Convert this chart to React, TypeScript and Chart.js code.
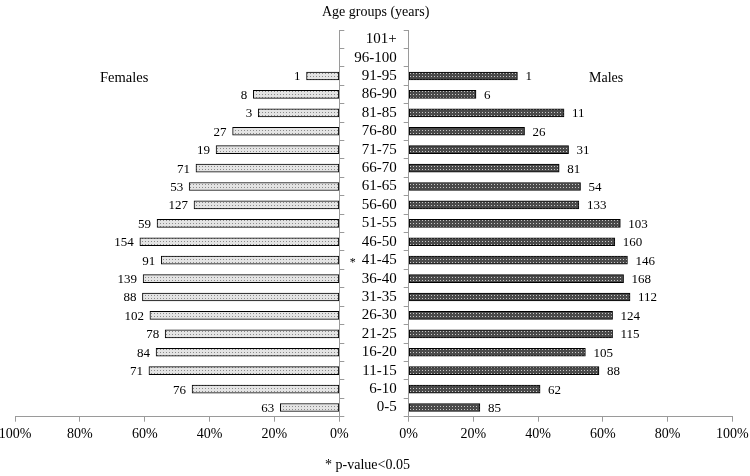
import React, { useEffect, useRef } from "react";
import { Chart, registerables } from "chart.js";

Chart.register(...registerables);

const categories = ["101+", "96-100", "91-95", "86-90", "81-85", "76-80", "71-75", "66-70", "61-65", "56-60", "51-55", "46-50", "41-45", "36-40", "31-35", "26-30", "21-25", "16-20", "11-15", "6-10", "0-5"];
const femalePct = [null, null, 10.1, 26.5, 25, 32.9, 38, 44.2, 46.3, 44.8, 56.2, 61.5, 54.9, 60.5, 60.7, 58.4, 53.7, 56.5, 58.7, 45.4, 18.2];
const malePct = [null, null, 33.6, 20.8, 48, 35.8, 49.4, 46.5, 53.1, 52.6, 65.4, 63.7, 67.6, 66.4, 68.4, 63, 63, 54.6, 58.8, 40.6, 22];
const femaleN = [null, null, 1, 8, 3, 27, 19, 71, 53, 127, 59, 154, 91, 139, 88, 102, 78, 84, 71, 76, 63];
const maleN = [null, null, 1, 6, 11, 26, 31, 81, 54, 133, 103, 160, 146, 168, 112, 124, 115, 105, 88, 62, 85];
const xTicks = [0, 20, 40, 60, 80, 100];
const starredGroup = "41-45";

const FONT = "'Liberation Serif', 'Times New Roman', serif";
const AXIS = "#9a9a9a";

function makePattern(bg: string, dot: string) {
  const c = document.createElement("canvas");
  c.width = 3;
  c.height = 3;
  const g = c.getContext("2d")!;
  g.fillStyle = bg;
  g.fillRect(0, 0, 3, 3);
  g.fillStyle = dot;
  g.fillRect(1, 1, 1, 1);
  return g.createPattern(c, "repeat")!;
}

function labelPlugin(counts: (number | null)[], side: "left" | "right", star: boolean) {
  return {
    id: "vals" + side,
    afterDatasetsDraw(chart: any) {
      const ctx = chart.ctx;
      const meta = chart.getDatasetMeta(0);
      ctx.save();
      ctx.fillStyle = "#000";
      ctx.font = `13px ${FONT}`;
      ctx.textBaseline = "middle";
      meta.data.forEach((el: any, i: number) => {
        const n = counts[i];
        if (n == null) return;
        if (side === "left") {
          ctx.textAlign = "right";
          ctx.fillText(String(n), el.x - 6, el.y + 1);
        } else {
          ctx.textAlign = "left";
          ctx.fillText(String(n), el.x + 8, el.y + 1);
        }
      });
      if (star) {
        const ys = chart.scales.y;
        const idx = categories.indexOf(starredGroup);
        const y = ys.getPixelForValue(idx);
        ctx.font = `15px ${FONT}`;
        const w = ctx.measureText(starredGroup).width;
        ctx.font = `12px ${FONT}`;
        ctx.textAlign = "right";
        ctx.fillText("*", ys.right - 12 - w - 6, y + 3);
      }
      ctx.restore();
    },
  };
}

function buildChart(canvas: HTMLCanvasElement, side: "left" | "right") {
  const isLeft = side === "left";
  const pattern = isLeft ? makePattern("#e4e4e4", "#8a8a8a") : makePattern("#4a4a4a", "#c8c8c8");
  return new Chart(canvas, {
    type: "bar",
    data: {
      labels: categories,
      datasets: [
        {
          data: (isLeft ? femalePct : malePct) as any,
          backgroundColor: pattern as any,
          borderColor: "#000",
          borderWidth: 1,
          borderSkipped: false,
          barThickness: 8,
        },
      ],
    },
    options: {
      indexAxis: "y",
      animation: false,
      responsive: false,
      devicePixelRatio: 1,
      layout: {
        padding: isLeft ? { left: 15, right: 0, top: 30, bottom: 0 } : { left: 0, right: 37.7, top: 30, bottom: 0 },
      },
      plugins: { legend: { display: false }, tooltip: { enabled: false } },
      scales: {
        x: {
          type: "linear",
          min: 0,
          max: 100,
          reverse: isLeft,
          position: "bottom",
          afterBuildTicks: (s: any) => {
            s.ticks = xTicks.map((v) => ({ value: v }));
          },
          afterFit: (s: any) => {
            s.height = 59.3;
          },
          ticks: {
            callback: (v: any) => v + "%",
            color: "#000",
            font: { family: FONT, size: 14 },
            padding: 4,
            maxRotation: 0,
          },
          grid: { drawOnChartArea: false, drawTicks: true, tickLength: 5, color: AXIS },
          border: { display: true, color: AXIS },
        },
        y: {
          type: "category",
          position: isLeft ? "right" : "left",
          afterFit: (s: any) => {
            s.width = isLeft ? 20.7 : 68.7;
          },
          ticks: {
            display: !isLeft,
            color: "#000",
            font: { family: FONT, size: 15 },
            padding: 7,
            autoSkip: false,
          },
          grid: { drawOnChartArea: false, drawTicks: true, tickLength: 5, color: AXIS, offset: true },
          border: { display: true, color: AXIS },
        },
      },
    },
    plugins: [labelPlugin(isLeft ? femaleN : maleN, side, !isLeft)],
  } as any);
}

const textStyle = (left: number, top: number, size: number): React.CSSProperties => ({
  position: "absolute",
  left,
  top,
  fontFamily: FONT,
  fontSize: size,
  lineHeight: `${size}px`,
  color: "#000",
  whiteSpace: "nowrap",
});

export default function App() {
  const leftRef = useRef<HTMLCanvasElement>(null);
  const rightRef = useRef<HTMLCanvasElement>(null);

  useEffect(() => {
    document.body.style.margin = "0";
    const a = buildChart(leftRef.current!, "left");
    const b = buildChart(rightRef.current!, "right");
    return () => {
      a.destroy();
      b.destroy();
    };
  }, []);

  return (
    <div style={{ position: "relative", width: 750, height: 476, background: "#fff", overflow: "hidden" }}>
      <canvas ref={leftRef} width={360} height={476} style={{ position: "absolute", left: 0, top: 0 }} />
      <canvas ref={rightRef} width={430} height={476} style={{ position: "absolute", left: 340, top: 0 }} />
      <div style={textStyle(322, 5, 14)}>Age groups (years)</div>
      <div style={textStyle(100, 70, 14.5)}>Females</div>
      <div style={textStyle(589, 71, 14)}>Males</div>
      <div style={textStyle(325, 458, 14)}>* p-value&lt;0.05</div>
    </div>
  );
}
